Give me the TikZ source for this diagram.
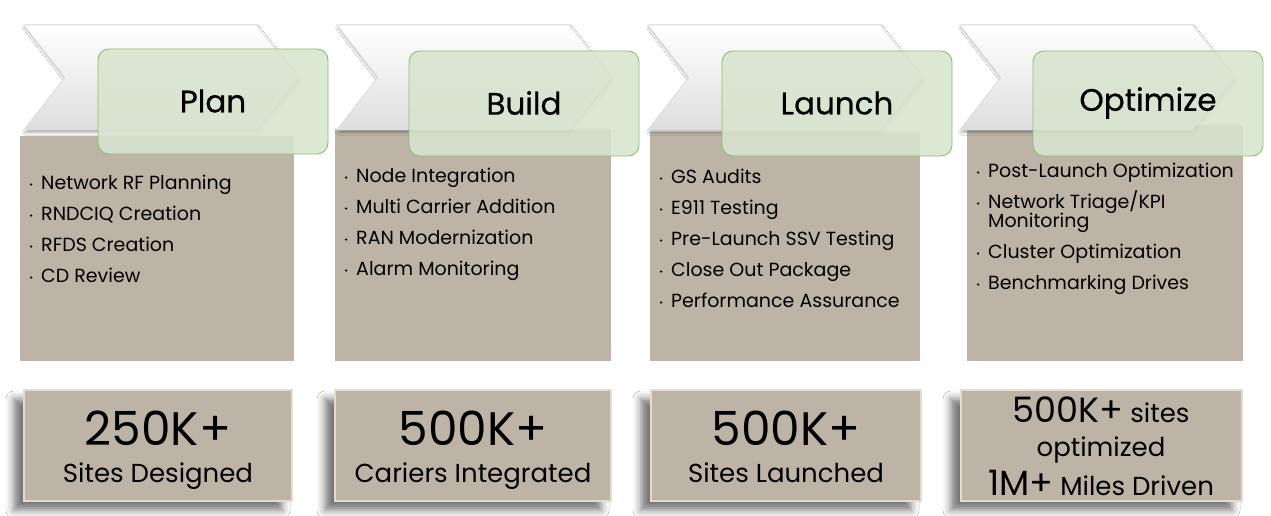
\documentclass[tikz,border=0pt]{standalone}
\usepackage{fontspec}
\setmainfont{Poppins}
\newfontfamily\titlefont{Poppins}[FakeBold=0.6]
\usetikzlibrary{shadows.blur}
\definecolor{tanc}{RGB}{189,180,167}
\definecolor{tanedge}{RGB}{228,220,204}
\definecolor{greenc}{RGB}{215,229,207}
\definecolor{greenb}{RGB}{140,190,110}
\begin{document}
\begin{tikzpicture}[x=1pt,y=-1pt,
  chev/.style={draw=black!12, line width=0.6pt, top color=white, middle color=white, bottom color=black!13,
    blur shadow={shadow xshift=1pt, shadow yshift=-2.5pt, shadow blur radius=2.5pt, shadow opacity=35}},
  tanbox/.style={fill=tanc},
  gbox/.style={draw=greenb, line width=0.9pt, fill=greenc, fill opacity=0.88, rounded corners=11pt},
  title/.style={font=\titlefont\fontsize{31}{34}\selectfont, text=black, inner sep=0pt},
  bul/.style={circle, fill=black, inner sep=0pt, minimum size=2.5pt, xshift=-8.5pt},
  item/.style={anchor=base west, inner sep=0pt, font=\fontsize{19}{22}\selectfont,
    text height=13pt, text depth=4pt, label={[bul]left:{}}},
  itemc/.style={anchor=base west, inner sep=0pt, font=\fontsize{19}{22}\selectfont},
  bbox/.style={fill=tanc, draw=tanedge, line width=1.6pt,
    blur shadow={shadow xshift=-10pt, shadow yshift=-9pt, shadow blur radius=8pt, shadow opacity=55}},
  big/.style={anchor=base, inner sep=0pt, font=\fontsize{47}{52}\selectfont},
  mid/.style={anchor=base, inner sep=0pt, font=\fontsize{26}{30}\selectfont},
]
\useasboundingbox (0,0) rectangle (1271,516);
\fill[white] (0,0) rectangle (1271,516);

% tan boxes
\fill[tanbox] (20,136) rectangle (294,361);
\fill[tanbox] (335,129) rectangle (611,361);
\fill[tanbox] (650,132) rectangle (920,361);
\fill[tanbox] (967,125) rectangle (1243,361);

% chevrons
\foreach \a in {24,337,648,960}{
  \path[chev] (\a,25) -- (\a+232,25) -- (\a+274,77.5) -- (\a+232,130) -- (\a,130) -- (\a+41,77.5) -- cycle;
}

% green title boxes
\draw[gbox] (98,49) rectangle (328,154);
\draw[gbox] (409,51) rectangle (639,156);
\draw[gbox] (722,51) rectangle (952,156);
\draw[gbox] (1033,51) rectangle (1263,156);
\node[title] (t1) at (213,101) {Plan};
\node[title] (t2) at (524,103) {Build};
\node[title] (t3) at (837,103) {Launch};
\node[title] (t4) at (1148,103) {Optimize};

% column 1 items
\node[item] (a1) at (41,189) {Network RF Planning};
\node[item] (a2) at (41,220) {RNDCIQ Creation};
\node[item] (a3) at (41,251) {RFDS Creation};
\node[item] (a4) at (41,282) {CD Review};
% column 2 items
\node[item] (b1) at (356,182) {Node Integration};
\node[item] (b2) at (356,213) {Multi Carrier Addition};
\node[item] (b3) at (356,244) {RAN Modernization};
\node[item] (b4) at (356,275) {Alarm Monitoring};
% column 3 items
\node[item] (c1) at (671,183) {GS Audits};
\node[item] (c2) at (671,214) {E911 Testing};
\node[item] (c3) at (671,245) {Pre-Launch SSV Testing};
\node[item] (c4) at (671,276) {Close Out Package};
\node[item] (c5) at (671,307) {Performance Assurance};
% column 4 items
\node[item] (d1) at (988,177) {Post-Launch Optimization};
\node[item] (d2) at (988,208) {Network Triage/KPI};
\node[itemc] (d2b) at (988,227) {Monitoring};
\node[item] (d3) at (988,258) {Cluster Optimization};
\node[item] (d4) at (988,289) {Benchmarking Drives};

% bottom boxes
\path[bbox] (24,390) rectangle (292,501);
\path[bbox] (335,390) rectangle (611,501);
\path[bbox] (651,390) rectangle (921,501);
\path[bbox] (961,390) rectangle (1242,501);

\node[big] (n1) at (158,445) {250K+};
\node[mid] (s1) at (158,482) {Sites Designed};
\node[big] (n2) at (473,445) {500K+};
\node[mid] (s2) at (473,482) {Cariers Integrated};
\node[big] (n3) at (786,445) {500K+};
\node[mid] (s3) at (786,482) {Sites Launched};
\node[mid] (n4) at (1101,422) {{\fontsize{35}{38}\selectfont 500K+} sites};
\node[mid] (s4) at (1101,456) {optimized};
\node[mid] (m4) at (1101,495) {{\fontsize{35}{38}\selectfont 1M+} Miles Driven};
\end{tikzpicture}
\end{document}
